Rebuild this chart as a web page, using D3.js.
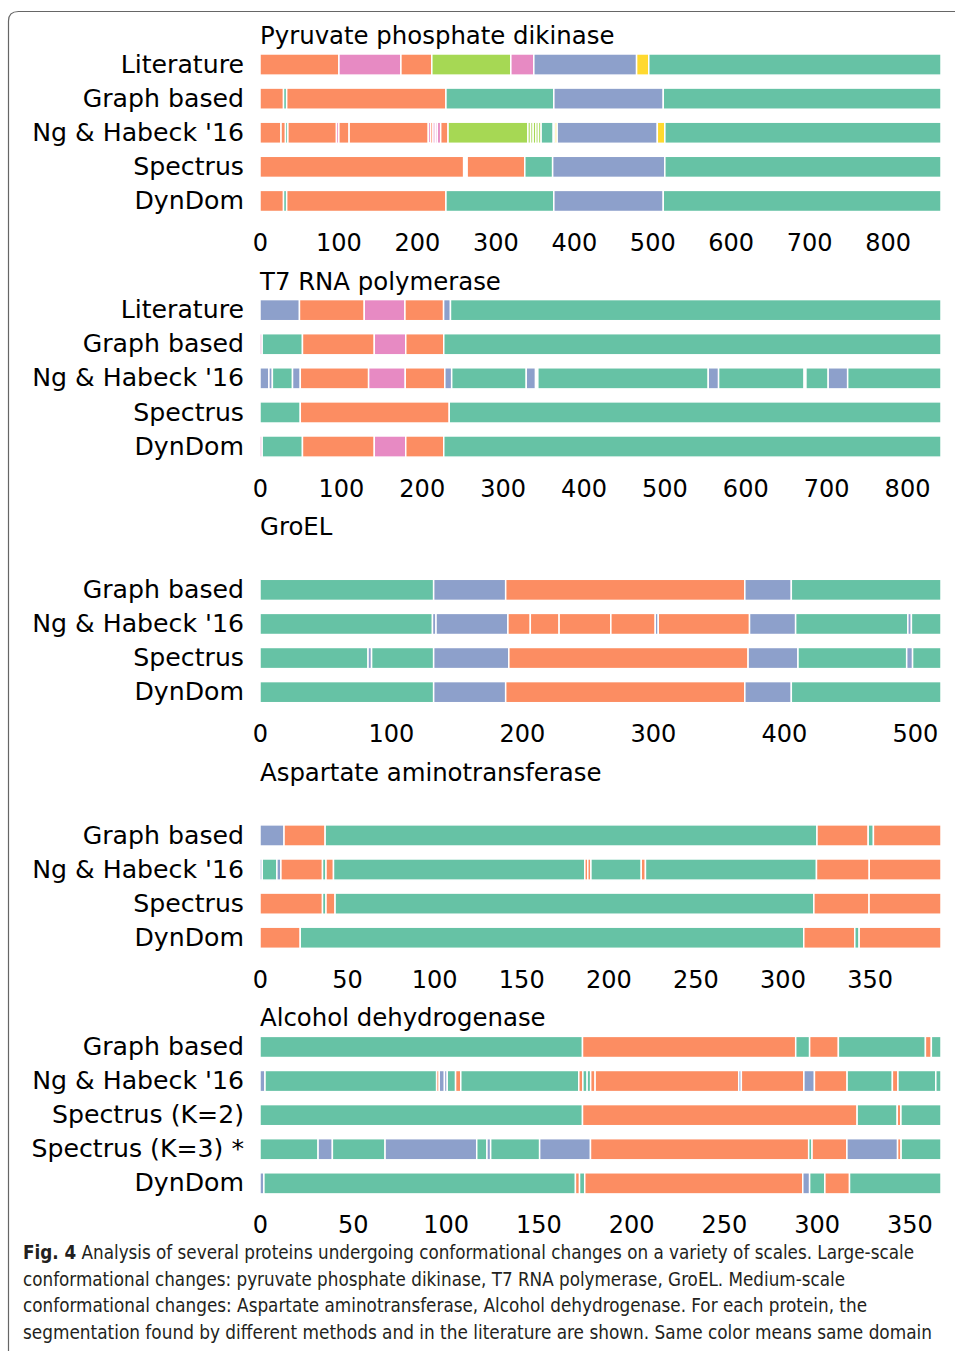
<!DOCTYPE html>
<html lang="en">
<head>
<meta charset="UTF-8">
<script src="https://d3js.org/d3.v7.min.js"></script>
<title>Fig. 4 protein segmentations</title>
<style>
    body {
        margin: 0;
        background: #fff;
    }
    svg text {
        font-family: "DejaVu Sans", sans-serif;
        fill: #000;
    }
    .caption text {
        font-family: "Liberation Sans Narrow", "DejaVu Sans Condensed", "Liberation Sans", sans-serif;
        font-size: 19px;
        fill: #231f20;
    }
</style>
</head>
<body>
<script>
    // domain keys: t teal, o orange, b blue, p pink, g lime, y yellow
    const domainKeys = ['t', 'o', 'b', 'p', 'g', 'y'];

    // segments are [start residue, end residue, domain]
    const ppdkTitle = 'Pyruvate phosphate dikinase';
    const ppdkLength = 868;
    const ppdkTicks = [0, 100, 200, 300, 400, 500, 600, 700, 800];
    const ppdkRows = ['Literature', 'Graph based', "Ng & Habeck '16", 'Spectrus', 'DynDom'];
    const ppdkSegments = [
        [[0, 100.6, 'o'], [100.6, 179.6, 'p'], [179.6, 219, 'o'], [219, 319.7, 'g'], [319.7, 349, 'p'], [349, 480, 'b'], [480, 495.5, 'y'], [495.5, 868, 't']],
        [[0, 30, 'o'], [30, 34, 't'], [34, 237, 'o'], [237, 374.5, 't'], [374.5, 514, 'b'], [514, 868, 't']],
        [[0, 26.8, 'o'], [26.8, 32.5, 'o'], [32.5, 35.5, 't'], [35.5, 97.5, 'o'], [97.5, 100.5, 'p'], [100.5, 113.6, 'o'], [113.6, 214.5, 'o'],
         [214.5, 217.5, 'p'], [217.5, 220.5, 'o'], [220.5, 223.5, 'p'], [223.5, 226, 'p'], [226, 230.3, 'p'], [230.3, 239.7, 'o'], [239.7, 341.5, 'g'],
         [341.5, 344.9, 'g'], [344.9, 348.2, 'g'], [348.2, 351.6, 'g'], [351.6, 354.9, 'g'], [354.9, 358.3, 'g'], [358.3, 373.8, 't'],
         [373.8, 376, 'b'], [376, 378.8, 'y'], [378.8, 506.4, 'b'], [506.4, 516, 'y'], [516, 868, 't']],
        [[0, 259.5, 'o'], [264, 337.5, 'o'], [337.5, 373, 't'], [373, 516, 'b'], [516, 868, 't']],
        [[0, 30, 'o'], [30, 34, 't'], [34, 237, 'o'], [237, 374.5, 't'], [374.5, 514, 'b'], [514, 868, 't']]
    ];

    const t7Title = 'T7 RNA polymerase';
    const t7Length = 842;
    const t7Ticks = [0, 100, 200, 300, 400, 500, 600, 700, 800];
    const t7Rows = ['Literature', 'Graph based', "Ng & Habeck '16", 'Spectrus', 'DynDom'];
    const t7Segments = [
        [[0, 48.8, 'b'], [48.8, 128.9, 'o'], [128.9, 179.2, 'p'], [179.2, 227, 'o'], [227, 235.5, 'b'], [235.5, 842, 't']],
        [[0, 2.7, 'p'], [2.7, 52.5, 't'], [52.5, 141.3, 'o'], [141.3, 180.2, 'p'], [180.2, 227.2, 'o'], [227.2, 842, 't']],
        [[0, 11, 'b'], [11, 15.3, 'b'], [15.3, 40.2, 't'], [40.2, 49.8, 'b'], [49.8, 134.3, 'o'], [134.3, 179.6, 'p'], [179.6, 228.5, 'o'],
         [228.5, 237, 'b'], [237, 329.2, 't'], [329.2, 340.5, 'b'], [343.5, 554.2, 't'], [554.2, 567, 'b'], [567, 672.5, 't'],
         [675, 702.5, 't'], [702.5, 726.6, 'b'], [726.6, 842, 't']],
        [[0, 49.8, 't'], [49.8, 234, 'o'], [234, 842, 't']],
        [[0, 2.7, 'p'], [2.7, 52.5, 't'], [52.5, 141.3, 'o'], [141.3, 180.2, 'p'], [180.2, 227.2, 'o'], [227.2, 842, 't']]
    ];

    const groelTitle = 'GroEL';
    const groelLength = 520;
    const groelTicks = [0, 100, 200, 300, 400, 500];
    const groelRows = ['Graph based', "Ng & Habeck '16", 'Spectrus', 'DynDom'];
    const groelSegments = [
        [[0, 132.6, 't'], [132.6, 187.6, 'b'], [187.6, 370.2, 'o'], [370.2, 405.7, 'b'], [405.7, 520, 't']],
        [[0, 131.7, 't'], [131.7, 134.4, 'b'], [134.4, 189.3, 'b'], [189.3, 206.4, 'o'], [206.4, 228.4, 'o'], [228.4, 267.9, 'o'],
         [267.9, 301.8, 'o'], [301.8, 304.1, 'b'], [304.1, 373.8, 'o'], [373.8, 409, 'b'], [409, 494.7, 't'], [494.7, 497.4, 'b'], [497.4, 520, 't']],
        [[0, 82.5, 't'], [82.5, 85.2, 'b'], [85.2, 132.6, 't'], [132.6, 190, 'b'], [190, 372.7, 'o'], [372.7, 410.8, 'b'],
         [410.8, 493.8, 't'], [493.8, 498.3, 'b'], [498.3, 520, 't']],
        [[0, 132.6, 't'], [132.6, 187.6, 'b'], [187.6, 370.2, 'o'], [370.2, 405.7, 'b'], [405.7, 520, 't']]
    ];

    const aatTitle = 'Aspartate aminotransferase';
    const aatLength = 391;
    const aatTicks = [0, 50, 100, 150, 200, 250, 300, 350];
    const aatRows = ['Graph based', "Ng & Habeck '16", 'Spectrus', 'DynDom'];
    const aatSegments = [
        [[0, 13.8, 'b'], [13.8, 37.4, 'o'], [37.4, 319.8, 't'], [319.8, 349.2, 'o'], [349.2, 352.2, 't'], [352.2, 391, 'o']],
        [[0, 1.3, 'b'], [1.3, 9.7, 't'], [9.7, 12, 'b'], [12, 35.9, 'o'], [35.9, 37.9, 't'], [37.9, 42.2, 'o'], [42.2, 186.5, 't'],
         [186.5, 188.2, 'o'], [188.2, 190, 'o'], [190, 218.9, 't'], [218.9, 221.3, 'o'], [221.3, 319.5, 't'], [319.5, 349.8, 'o'], [349.8, 391, 'o']],
        [[0, 35.9, 'o'], [35.9, 37.9, 't'], [37.9, 43.1, 'o'], [43.1, 318, 't'], [318, 349.7, 'o'], [349.7, 391, 'o']],
        [[0, 23.1, 'o'], [23.1, 312.2, 't'], [312.2, 341.5, 'o'], [341.5, 344, 't'], [344, 391, 'o']]
    ];

    const adhTitle = 'Alcohol dehydrogenase';
    const adhLength = 367;
    const adhTicks = [0, 50, 100, 150, 200, 250, 300, 350];
    const adhRows = ['Graph based', "Ng & Habeck '16", 'Spectrus (K=2)', 'Spectrus (K=3) *', 'DynDom'];
    const adhSegments = [
        [[0, 173.8, 't'], [173.8, 288.7, 'o'], [288.7, 296.2, 't'], [296.2, 311.7, 'o'], [311.7, 358.6, 't'], [358.6, 361.8, 'o'], [361.8, 367, 't']],
        [[0, 2.7, 'b'], [2.7, 95.2, 't'], [95.2, 96.6, 'o'], [96.6, 99.4, 'b'], [99.4, 100.9, 'b'], [100.9, 105.4, 't'], [105.4, 108.2, 'o'],
         [108.2, 171.8, 't'], [171.8, 174, 'o'], [174, 176.3, 't'], [176.3, 178.2, 't'], [178.2, 180.6, 'o'], [180.6, 258, 'o'], [258, 259.4, 'b'],
         [259.4, 293.1, 'o'], [293.1, 298.8, 'b'], [298.8, 316.4, 'o'], [316.4, 340.8, 't'], [340.8, 343.8, 'o'], [343.8, 364.2, 't'], [364.2, 367, 't']],
        [[0, 173.8, 't'], [173.8, 321.8, 'o'], [321.8, 343.4, 't'], [343.4, 345.4, 'o'], [345.4, 367, 't']],
        [[0, 31.3, 't'], [31.3, 39, 'b'], [39, 67.4, 't'], [67.4, 116.8, 'b'], [116.8, 122.3, 't'], [122.3, 124.3, 'b'], [124.3, 150.7, 't'],
         [150.7, 178.1, 'b'], [178.1, 295.7, 'o'], [295.7, 297.5, 't'], [297.5, 316.3, 'o'], [316.3, 343.6, 'b'], [343.6, 345.5, 'o'], [345.5, 367, 't']],
        [[0, 2.1, 'b'], [2.1, 170, 't'], [170, 172.2, 'o'], [172.2, 175, 't'], [175, 292.5, 'o'], [292.5, 296.2, 'b'], [296.2, 304.4, 't'],
         [304.4, 317.7, 'o'], [317.7, 367, 't']]
    ];

    const captionLines = [
        ['Fig. 4', ' Analysis of several proteins undergoing conformational changes on a variety of scales. Large-scale'],
        ['', 'conformational changes: pyruvate phosphate dikinase, T7 RNA polymerase, GroEL. Medium-scale'],
        ['', 'conformational changes: Aspartate aminotransferase, Alcohol dehydrogenase. For each protein, the'],
        ['', 'segmentation found by different methods and in the literature are shown. Same color means same domain']
    ];
    const captionWidths = [891, 822, 844, 909];

    /////////////////////////

    const panels = [
        { title: ppdkTitle, length: ppdkLength, ticks: ppdkTicks, rows: ppdkRows, segments: ppdkSegments },
        { title: t7Title, length: t7Length, ticks: t7Ticks, rows: t7Rows, segments: t7Segments },
        { title: groelTitle, length: groelLength, ticks: groelTicks, rows: groelRows, segments: groelSegments },
        { title: aatTitle, length: aatLength, ticks: aatTicks, rows: aatRows, segments: aatSegments },
        { title: adhTitle, length: adhLength, ticks: adhTicks, rows: adhRows, segments: adhSegments }
    ];

    const width = 955;
    const height = 1351;
    const plotLeft = 260;
    const plotRight = 941;
    const firstTop = 47.5;    // top of the first row slot
    const panelStep = 245.6;  // vertical distance between panels
    const slotStep = 34.1;

    const color = d3.scaleOrdinal().domain(domainKeys).range(d3.schemeSet2);

    const svg = d3.select('body').append('svg')
        .attr('width', width)
        .attr('height', height);

    // rounded frame of the figure box
    svg.append('path')
        .attr('d', `M8.5,${height} V21 Q8.5,11.5 18.5,11.5 H${width}`)
        .attr('fill', 'none')
        .attr('stroke', '#666')
        .attr('stroke-width', 1.2);

    panels.forEach((p, i) => {
        const top = firstTop + i * panelStep;
        // panels with 4 methods keep an empty first slot
        const slots = p.rows.length === 5 ? p.rows : [''].concat(p.rows);

        const x = d3.scaleLinear().domain([0, p.length]).range([plotLeft, plotRight]);
        const y = d3.scaleBand().domain(slots).range([top, top + 5 * slotStep])
            .paddingInner(0.38).paddingOuter(0.19);

        const g = svg.append('g').attr('class', 'panel');

        g.append('text')
            .attr('x', plotLeft)
            .attr('y', top - 3.5)
            .style('font-size', '24.4px')
            .text(p.title);

        p.rows.forEach((row, r) => {
            g.selectAll(null)
                .data(p.segments[r])
                .join('rect')
                .attr('x', (d) => x(d[0]))
                .attr('width', (d) => x(d[1]) - x(d[0]))
                .attr('y', y(row))
                .attr('height', y.bandwidth())
                .attr('fill', (d) => color(d[2]))
                .attr('stroke', '#fff')
                .attr('stroke-width', 1.5);
        });

        const yaxis = d3.axisLeft(y).tickValues(p.rows).tickSize(0).tickPadding(16);
        const g_yaxis = g.append('g').attr('transform', `translate(${plotLeft},0)`).call(yaxis);
        g_yaxis.select('.domain').remove();
        g_yaxis.selectAll('text').style('font-size', '25.2px').attr('fill', '#000');

        const xaxis = d3.axisBottom(x).tickValues(p.ticks).tickSize(0).tickPadding(16);
        const g_xaxis = g.append('g').attr('transform', `translate(0,${top + 5 * slotStep})`).call(xaxis);
        g_xaxis.select('.domain').remove();
        g_xaxis.selectAll('text').style('font-size', '24px').attr('fill', '#000');
    });

    // caption below the chart
    const cap = svg.append('g').attr('class', 'caption');
    captionLines.forEach((line, i) => {
        const t = cap.append('text')
            .attr('x', 23)
            .attr('y', 1259 + i * 26.6)
            .attr('textLength', captionWidths[i])
            .attr('lengthAdjust', 'spacingAndGlyphs');
        if (line[0]) {
            t.append('tspan').style('font-weight', 'bold').text(line[0]);
        }
        t.append('tspan').text(line[1]);
    });
</script>
</body>
</html>
